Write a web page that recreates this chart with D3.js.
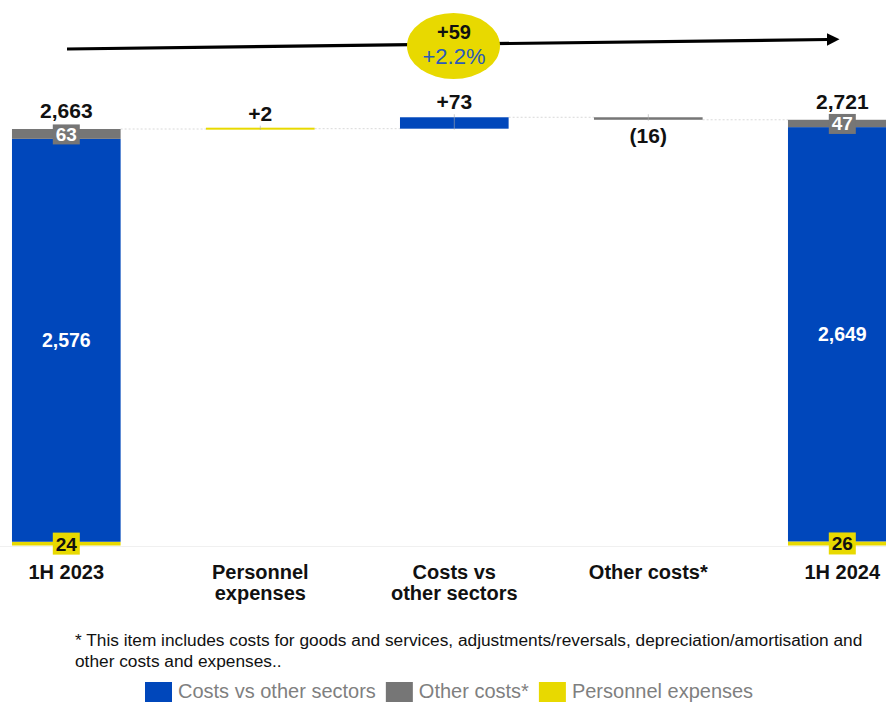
<!DOCTYPE html>
<html>
<head>
<meta charset="utf-8">
<script src="https://cdn.jsdelivr.net/npm/d3@7"></script>
<style>
  body { margin: 0; background: #fff; }
  svg { display: block; }
  .num { font-family: "Liberation Sans", Arial, sans-serif; font-weight: bold; }
</style>
</head>
<body>
<div id="chart"></div>
<script>
const categories = ["1H 2023", "Personnel\nexpenses", "Costs vs\nother sectors", "Other costs*", "1H 2024"];
const seriesNames = ["Costs vs other sectors", "Other costs*", "Personnel expenses"];
const colors = { blue: "#0047bb", gray: "#767676", yellow: "#e8d900" };

// totals split into yellow (personnel), blue (costs vs other sectors), gray (other costs)
const startParts = [24, 2576, 63];
const endParts = [26, 2649, 47];
const startTotal = 2663;
const endTotal = 2721;
const deltas = [2, 73, -16];
const deltaLabels = ["+2", "+73", "(16)"];
const deltaColors = ["yellow", "blue", "gray"];
const totalChange = "+59";
const totalChangePct = "+2.2%";
const footnote = ["* This item includes costs for goods and services, adjustments/reversals, depreciation/amortisation and",
                  "other costs and expenses.."];

const W = 886, H = 704;
const svg = d3.select("#chart").append("svg").attr("width", W).attr("height", H);

const x = d3.scaleBand().domain(d3.range(5)).range([-30.7, 939.3]).paddingInner(0.44).paddingOuter(0.22);
const y = d3.scaleLinear().domain([0, startTotal]).range([545.5, 129]);

// faint baseline
svg.append("line").attr("x1", 0).attr("x2", W).attr("y1", y(0) + 1).attr("y2", y(0) + 1)
    .attr("stroke", "#f0f0f0").attr("stroke-width", 1);

// stacked total bars
function drawTotal(i, parts, total) {
    const g = svg.append("g");
    const keys = ["yellow", "blue", "gray"];
    const cx = x(i) + x.bandwidth() / 2;
    let acc = 0;
    const segs = parts.map((v, k) => { const s = { k: keys[k], y0: acc, y1: acc + v, v: v }; acc += v; return s; });
    g.selectAll("rect").data(segs).enter().append("rect")
        .attr("x", x(i)).attr("width", x.bandwidth())
        .attr("y", d => y(d.y1)).attr("height", d => y(d.y0) - y(d.y1))
        .attr("fill", d => colors[d.k]);
    // blue label
    const b = segs[1];
    g.append("text").attr("class", "num").attr("x", cx)
        .attr("y", (y(b.y0) + y(b.y1)) / 2 + 7).attr("text-anchor", "middle")
        .attr("fill", "#fff").attr("font-size", 19.5).text(d3.format(",")(b.v));
    // gray tag
    const gr = segs[2];
    const gy = (y(gr.y0) + y(gr.y1)) / 2;
    g.append("rect").attr("x", cx - 13.5).attr("y", gy - 9.5).attr("width", 27).attr("height", 20)
        .attr("fill", colors.gray);
    g.append("text").attr("class", "num").attr("x", cx).attr("y", gy + 7)
        .attr("text-anchor", "middle").attr("fill", "#fff").attr("font-size", 19).text(gr.v);
    // yellow tag
    const ye = segs[0];
    const yy = (y(ye.y0) + y(ye.y1)) / 2;
    g.append("rect").attr("x", cx - 13.5).attr("y", yy - 11).attr("width", 27).attr("height", 22)
        .attr("fill", colors.yellow);
    g.append("text").attr("class", "num").attr("x", cx).attr("y", yy + 7)
        .attr("text-anchor", "middle").attr("fill", "#111").attr("font-size", 19).text(ye.v);
    // total label
    g.append("text").attr("class", "num").attr("x", cx).attr("y", y(total) - 11)
        .attr("text-anchor", "middle").attr("fill", "#111").attr("font-size", 21).text(d3.format(",")(total));
}

// waterfall deltas
let level = startTotal;
const steps = deltas.map((d, k) => { const s = { i: k + 1, from: level, to: level + d, d: d, label: deltaLabels[k], c: deltaColors[k] }; level += d; return s; });

// dotted connectors
const conn = [{ i: 0, v: startTotal }].concat(steps.map(s => ({ i: s.i, v: s.to })));
svg.append("g").selectAll("line").data(conn).enter().append("line")
    .attr("x1", d => x(d.i) + x.bandwidth()).attr("x2", d => x(d.i + 1))
    .attr("y1", d => y(d.v)).attr("y2", d => y(d.v))
    .attr("stroke", "#d9d9d9").attr("stroke-width", 1).attr("stroke-dasharray", "2,2");

const dg = svg.append("g");
dg.selectAll("rect").data(steps).enter().append("rect")
    .attr("x", d => x(d.i)).attr("width", x.bandwidth())
    .attr("y", d => Math.min(y(d.from), y(d.to)) - (Math.abs(y(d.from) - y(d.to)) < 2 ? 1 : 0))
    .attr("height", d => Math.max(2, Math.abs(y(d.from) - y(d.to))))
    .attr("fill", d => colors[d.c]);
dg.selectAll("line").data(steps).enter().append("line")
    .attr("x1", d => x(d.i) + x.bandwidth() / 2).attr("x2", d => x(d.i) + x.bandwidth() / 2)
    .attr("y1", d => Math.min(y(d.from), y(d.to)) - 3).attr("y2", d => Math.max(y(d.from), y(d.to)) + 1)
    .attr("stroke", "#aaa").attr("stroke-width", 0.6);
dg.selectAll("text").data(steps).enter().append("text").attr("class", "num")
    .attr("x", d => x(d.i) + x.bandwidth() / 2)
    .attr("y", d => d.d >= 0 ? y(d.to) - 8 : y(d.to) + 23)
    .attr("text-anchor", "middle").attr("fill", "#111").attr("font-size", 21).text(d => d.label);

drawTotal(0, startParts, startTotal);
drawTotal(4, endParts, endTotal);

// category labels
const cg = svg.append("g");
categories.forEach((c, i) => {
    const cx = x(i) + x.bandwidth() / 2;
    const t = cg.append("text").attr("class", "num").attr("text-anchor", "middle")
        .attr("x", cx).attr("y", 579).attr("fill", "#111").attr("font-size", 20);
    c.split("\n").forEach((line, k) => t.append("tspan").attr("x", cx).attr("dy", k ? 21 : 0).text(line));
});

// overall change arrow
const defs = svg.append("defs");
defs.append("marker").attr("id", "ah").attr("viewBox", "0 0 10 10").attr("refX", 1).attr("refY", 5)
    .attr("markerWidth", 4).attr("markerHeight", 4).attr("orient", "auto")
    .append("path").attr("d", "M0,0L10,5L0,10z").attr("fill", "#000");
svg.append("line").attr("x1", 67).attr("y1", 49).attr("x2", 828).attr("y2", 39.5)
    .attr("stroke", "#000").attr("stroke-width", 3.2).attr("marker-end", "url(#ah)");
svg.append("ellipse").attr("cx", 453.5).attr("cy", 46).attr("rx", 46.5).attr("ry", 33).attr("fill", "#e8d900");
svg.append("text").attr("class", "num").attr("x", 454).attr("y", 39).attr("text-anchor", "middle")
    .attr("font-size", 20).attr("fill", "#111").text(totalChange);
svg.append("text").attr("x", 454).attr("y", 64).attr("text-anchor", "middle")
    .attr("font-family", "\"Liberation Sans\", Arial, sans-serif")
    .attr("font-size", 22).attr("fill", "#2b5bb8").text(totalChangePct);

// footnote
footnote.forEach((line, k) => {
    svg.append("text").attr("x", 75).attr("y", 646 + k * 21)
        .attr("font-family", "\"Liberation Sans\", Arial, sans-serif")
        .attr("font-size", 17.3).attr("fill", "#111").text(line);
});

// legend
const lg = svg.append("g").attr("transform", "translate(145,682)");
let lx = 0;
const legendKeys = ["blue", "gray", "yellow"];
seriesNames.forEach((n, k) => {
    lg.append("rect").attr("x", lx).attr("y", 0).attr("width", 27).attr("height", 20).attr("fill", colors[legendKeys[k]]);
    const t = lg.append("text").attr("x", lx + 33).attr("y", 16)
        .attr("font-family", "\"Liberation Sans\", Arial, sans-serif").attr("font-size", 20)
        .attr("fill", "#7f7f7f").text(n);
    lx += 33 + t.node().getComputedTextLength() + 10;
});
</script>
</body>
</html>
